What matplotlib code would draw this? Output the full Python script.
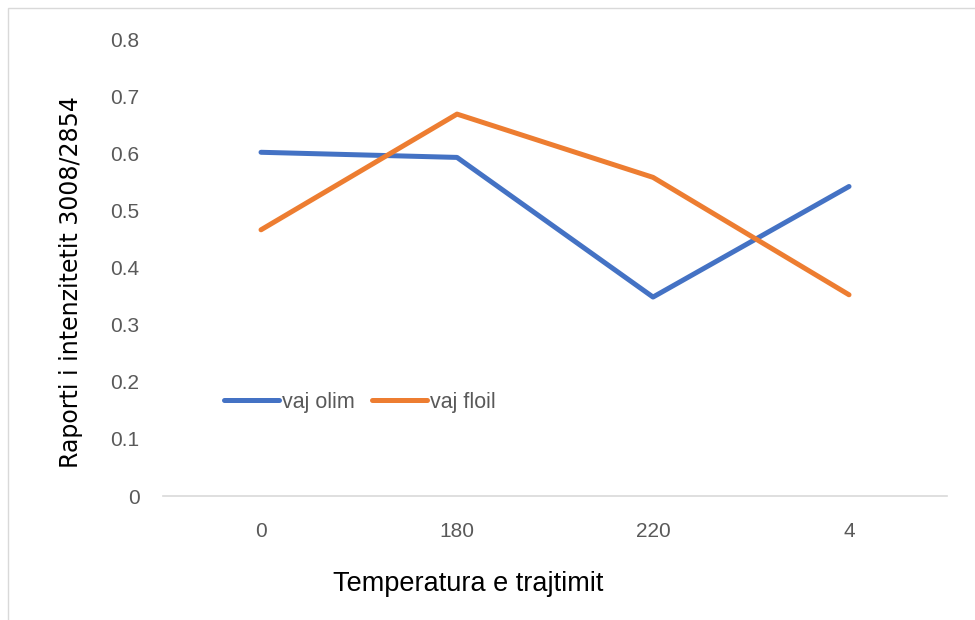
import matplotlib.pyplot as plt
from matplotlib.patches import Rectangle

# temperature categories (shown as text, not numeric)
temperatura = ["0", "180", "220", "4"]
vaj_olim = [0.603, 0.594, 0.349, 0.543]
vaj_floil = [0.467, 0.670, 0.559, 0.353]

blu = "#4472C4"
portokalli = "#ED7D31"
gri = "#595959"

plt.rcParams["font.family"] = ["Liberation Sans", "DejaVu Sans"]

fig = plt.figure(figsize=(9.75, 6.2), dpi=100)
ax = fig.add_axes([0.1672, 0.2, 0.8041, 0.7355])

x = list(range(len(temperatura)))
ax.plot(x, vaj_olim, color=blu, lw=3.6, solid_capstyle="round", label="vaj olim")
ax.plot(x, vaj_floil, color=portokalli, lw=3.6, solid_capstyle="round", label="vaj floil")

ax.set_xlim(-0.5, 3.5)
ax.set_ylim(0, 0.8)
ax.set_xticks(x)
ax.set_xticklabels(temperatura)
ax.set_yticks([i / 10 for i in range(9)])
ax.set_yticklabels(["0"] + ["%.1f" % (i / 10) for i in range(1, 9)])
ax.tick_params(length=0, labelsize=15, colors=gri)
ax.tick_params(axis="x", pad=19)
ax.tick_params(axis="y", pad=17)

for s in ["top", "right", "left"]:
    ax.spines[s].set_visible(False)
ax.spines["bottom"].set_color("#D9D9D9")
ax.spines["bottom"].set_linewidth(1.2)

ax.set_ylabel("Raporti i intenzitetit 3008/2854", fontsize=17,
              family="DejaVu Sans", color="black", labelpad=0)
ax.yaxis.set_label_coords(-0.102, 0.47)
ax.set_xlabel("Temperatura e trajtimit", fontsize=19.5, color="black")
ax.xaxis.set_label_coords(0.389, -0.165)

ax.legend(loc="center left", bbox_to_anchor=(0.078, 0.206), ncol=2, frameon=False,
          fontsize=15.5, handlelength=2.55, handletextpad=0.15, columnspacing=0.8,
          borderpad=0, borderaxespad=0, labelcolor=gri)

# thin frame around the chart area, like the Excel chart border
fig.patches.append(Rectangle((8 / 975, -0.01), 1.0, 1 - 8 / 620 + 0.01,
                             transform=fig.transFigure, fill=False,
                             edgecolor="#D9D9D9", lw=1))

fig.savefig("out.png", dpi=100)
